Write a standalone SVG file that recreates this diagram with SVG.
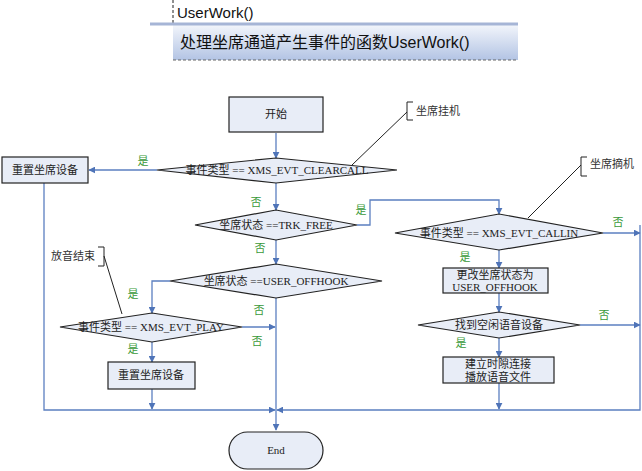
<svg xmlns="http://www.w3.org/2000/svg" width="642" height="471" viewBox="0 0 642 471">
<defs>
<linearGradient id="hg" x1="0" y1="0" x2="0" y2="1">
<stop offset="0" stop-color="#f2f5fb"/>
<stop offset="1" stop-color="#b3c4e4"/>
</linearGradient>
<marker id="ar" viewBox="0 0 10 10" refX="9" refY="5" markerWidth="7" markerHeight="7" orient="auto" markerUnits="userSpaceOnUse">
<path d="M0,0 L10,5 L0,10 Z" fill="#4f74b8"/>
</marker>
<style>
.n{fill:#e8edf7;stroke:#222;stroke-width:1.2}
.t{font-family:"Liberation Serif","Noto Sans CJK SC",serif;font-size:11px;fill:#222;text-anchor:middle}
.c{fill:none;stroke:#5b7fc0;stroke-width:1.3}
.ca{fill:none;stroke:#5b7fc0;stroke-width:1.3;marker-end:url(#ar)}
.g{font-family:"Liberation Serif","Noto Sans CJK SC",serif;font-size:11px;fill:#3a9a3a;text-anchor:middle}
.cl{fill:none;stroke:#222;stroke-width:1}
.ct{font-family:"Liberation Serif","Noto Sans CJK SC",serif;font-size:11px;fill:#333}
</style>
</defs>
<rect width="642" height="471" fill="#fff"/>
<g id="header">
<line x1="173" y1="0" x2="173" y2="25" stroke="#222" stroke-dasharray="3,2"/>
<text x="177" y="18" font-family="Liberation Sans,Arial,sans-serif" font-size="15" fill="#111">UserWork()</text>
<rect x="173" y="25" width="345" height="35" fill="url(#hg)"/>
<rect x="150" y="22.5" width="368" height="3" fill="#a6b5d6"/>
<line x1="173" y1="60" x2="518" y2="60" stroke="#666" stroke-dasharray="3,2"/>
<text x="180" y="48" font-family="Liberation Sans,'Noto Sans CJK SC',sans-serif" font-size="16" fill="#111">处理坐席通道产生事件的函数UserWork()</text>
</g>
<g id="connectors">
<line class="ca" x1="276" y1="133" x2="276" y2="158"/>
<line class="ca" x1="157" y1="170" x2="89" y2="170"/>
<line class="ca" x1="276" y1="183" x2="276" y2="210"/>
<polyline class="ca" points="357,225 370,225 370,200 499,200 499,214"/>
<polyline class="ca" points="603,233 640,233"/>
<line class="ca" x1="499" y1="250" x2="499" y2="268"/>
<line class="ca" x1="499" y1="293" x2="499" y2="312"/>
<polyline class="ca" points="580,325 640,325"/>
<line class="ca" x1="499" y1="338" x2="499" y2="357"/>
<line class="ca" x1="499" y1="383" x2="499" y2="409"/>
<line class="ca" x1="276" y1="240" x2="276" y2="264"/>
<polyline class="ca" points="170,281 152,281 152,313"/>
<line class="ca" x1="276" y1="298" x2="276" y2="430"/>
<line class="ca" x1="242" y1="327" x2="275" y2="327"/>
<line class="ca" x1="152" y1="342" x2="152" y2="362"/>
<line class="ca" x1="152" y1="389" x2="152" y2="409"/>
<polyline class="ca" points="44,183 44,410 275,410"/>
<polyline class="ca" points="640,225 640,410 277,410"/>
</g>
<g id="labels">
<text class="g" x="143" y="165">是</text>
<text class="g" x="256" y="206">否</text>
<text class="g" x="361" y="214">是</text>
<text class="g" x="618" y="226">否</text>
<text class="g" x="465" y="261">是</text>
<text class="g" x="604" y="319">否</text>
<text class="g" x="461" y="347">是</text>
<text class="g" x="260" y="252">否</text>
<text class="g" x="133" y="298">是</text>
<text class="g" x="259" y="314">否</text>
<text class="g" x="257" y="345">否</text>
<text class="g" x="133" y="353">是</text>
</g>
<g id="start"><rect class="n" x="229" y="97" width="94" height="35"/><text class="t" x="276" y="118">开始</text></g>
<g id="d1"><polygon class="n" points="157,170 276,158 397,170 276,183"/><text class="t" x="277" y="174">事件类型 == XMS_EVT_CLEARCALL</text></g>
<g id="reset1"><rect class="n" x="2" y="157" width="86" height="26"/><text class="t" x="45" y="174">重置坐席设备</text></g>
<g id="d2"><polygon class="n" points="195,225 276,210 357,225 276,240"/><text class="t" x="276" y="229">坐席状态 ==TRK_FREE</text></g>
<g id="d3"><polygon class="n" points="395,233 499,214 603,233 499,250"/><text class="t" x="499" y="237">事件类型 == XMS_EVT_CALLIN</text></g>
<g id="setoff"><rect class="n" x="443" y="268" width="105" height="25"/><text class="t" x="495" y="279">更改坐席状态为</text><text class="t" x="495" y="291">USER_OFFHOOK</text></g>
<g id="d4"><polygon class="n" points="418,325 499,312 580,325 499,338"/><text class="t" x="499" y="329">找到空闲语音设备</text></g>
<g id="play"><rect class="n" x="443" y="357" width="111" height="26"/><text class="t" x="498" y="368">建立时隙连接</text><text class="t" x="498" y="381">播放语音文件</text></g>
<g id="d5"><polygon class="n" points="170,281 276,264 382,281 276,298"/><text class="t" x="276" y="285">坐席状态 ==USER_OFFHOOK</text></g>
<g id="d6"><polygon class="n" points="60,327 152,313 242,327 152,342"/><text class="t" x="151" y="331">事件类型 == XMS_EVT_PLAY</text></g>
<g id="reset2"><rect class="n" x="108" y="362" width="87" height="27"/><text class="t" x="151" y="379">重置坐席设备</text></g>
<g id="end"><rect class="n" x="229" y="432" width="94" height="37" rx="18.5"/><text class="t" x="276" y="454">End</text></g>
<g id="note1"><path class="cl" d="M413,102 H407 V120 H413"/><line class="cl" x1="407" y1="112" x2="352" y2="165"/><text class="ct" x="416" y="115">坐席挂机</text></g>
<g id="note2"><path class="cl" d="M587,157 H581 V176 H587"/><line class="cl" x1="581" y1="165" x2="528" y2="218"/><text class="ct" x="590" y="168">坐席摘机</text></g>
<g id="note3"><path class="cl" d="M98,247 H104 V266 H98"/><line class="cl" x1="104" y1="256" x2="122" y2="314"/><text class="ct" x="51" y="260">放音结束</text></g>
</svg>
